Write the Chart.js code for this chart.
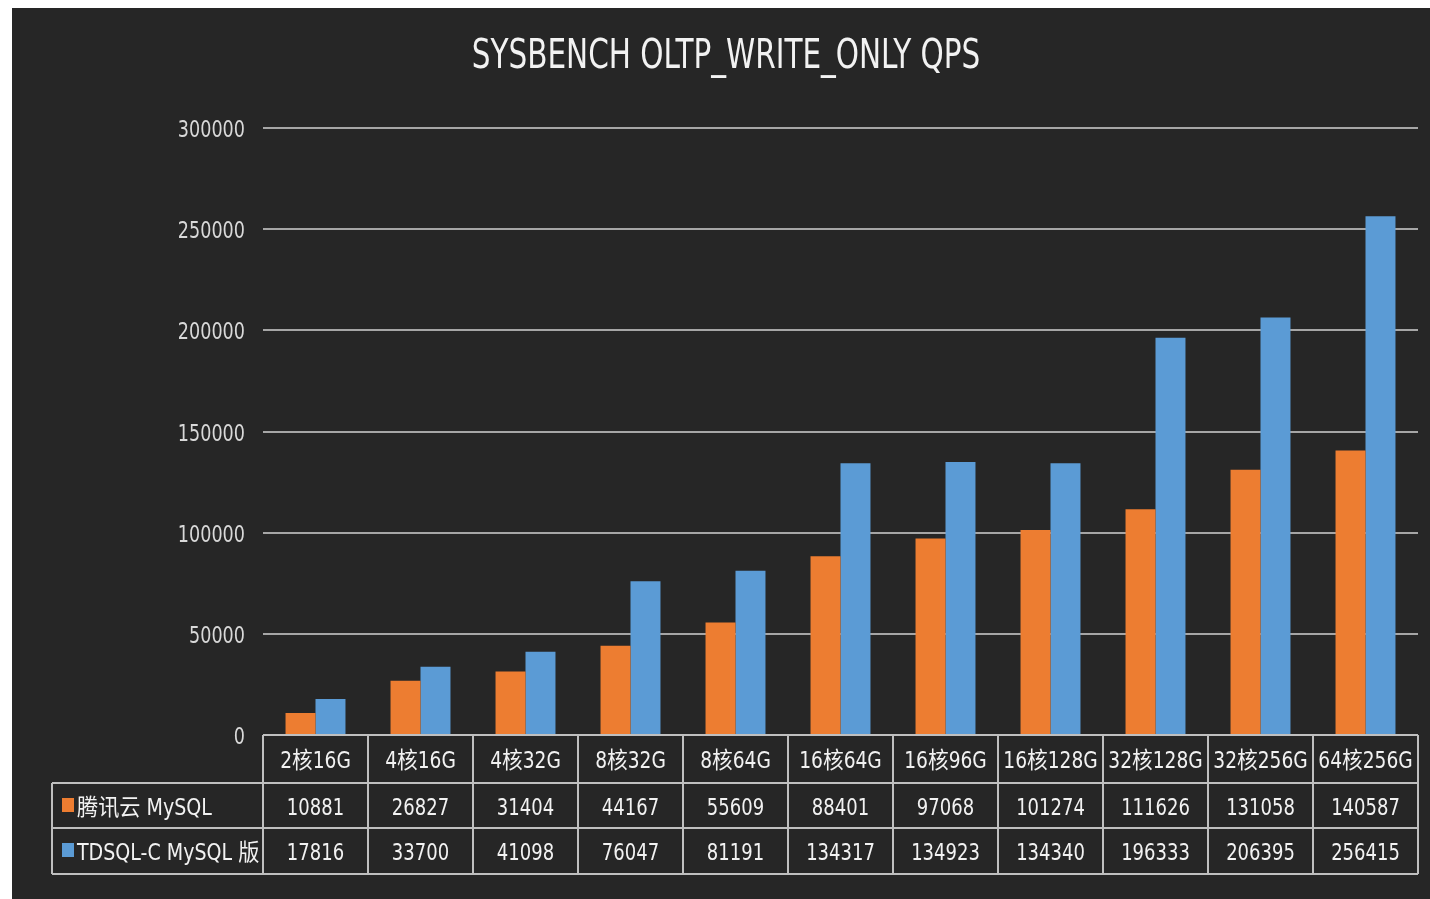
<!doctype html>
<html>
<head>
<meta charset="utf-8">
<title>SYSBENCH OLTP_WRITE_ONLY QPS</title>
<script src="https://cdn.jsdelivr.net/npm/chart.js"></script>
<style>
  body { margin: 0; background: #ffffff; }
  .box { position: absolute; left: 12px; top: 8px; width: 1418px; height: 891px; background: #262626; }
</style>
</head>
<body>
<div class="box"><canvas id="qpsChart"></canvas></div>
<script>
// chart data
const categories = ['2核16G', '4核16G', '4核32G', '8核32G', '8核64G', '16核64G', '16核96G', '16核128G', '32核128G', '32核256G', '64核256G'];
const seriesNames = ['腾讯云 MySQL', 'TDSQL-C MySQL 版'];
const tencentMysql = [10881, 26827, 31404, 44167, 55609, 88401, 97068, 101274, 111626, 131058, 140587];
const tdsqlC = [17816, 33700, 41098, 76047, 81191, 134317, 134923, 134340, 196333, 206395, 256415];
const yTicks = [0, 50000, 100000, 150000, 200000, 250000, 300000];
const chartTitle = 'SYSBENCH OLTP_WRITE_ONLY QPS';

const FONT = "'Liberation Sans Narrow', 'DejaVu Sans Condensed', 'Noto Sans CJK SC', sans-serif";
const TEXT = '#f2f2f2';
const LINE = '#bfbfbf';

// no narrow font installed, so squeeze text horizontally
function narrowText(ctx, text, x, y, align, size, sx) {
    ctx.save();
    ctx.translate(x, y);
    ctx.scale(sx, 1);
    ctx.font = size + 'px ' + FONT;
    ctx.textAlign = align;
    ctx.textBaseline = 'alphabetic';
    ctx.fillText(text, 0, 0);
    ctx.restore();
}

// title, y labels and the data table under the plot
const dataTable = {
    id: 'dataTable',
    afterDraw(chart) {
        const ctx = chart.ctx;
        const x = chart.scales.x;
        const y = chart.scales.y;
        const area = chart.chartArea;
        const colW = (area.right - area.left) / categories.length;
        const rows = [area.bottom, area.bottom + 48, area.bottom + 93, area.bottom + 139];
        const labelLeft = 40;

        ctx.save();
        ctx.fillStyle = TEXT;
        narrowText(ctx, chartTitle, chart.width / 2 + 5, 60, 'center', 41, 0.8);

        ctx.fillStyle = '#d9d9d9';
        y.ticks.forEach(t => {
            narrowText(ctx, String(t.value), area.left - 18, y.getPixelForValue(t.value) + 9, 'right', 23, 0.85);
        });

        ctx.strokeStyle = LINE;
        ctx.lineWidth = 2;
        ctx.beginPath();
        ctx.moveTo(area.left, rows[0]); ctx.lineTo(area.right, rows[0]);
        for (let r = 1; r < rows.length; r++) {
            ctx.moveTo(labelLeft, rows[r]); ctx.lineTo(area.right, rows[r]);
        }
        ctx.moveTo(labelLeft, rows[1]); ctx.lineTo(labelLeft, rows[3]);
        for (let i = 0; i <= categories.length; i++) {
            const px = area.left + i * colW;
            ctx.moveTo(px, rows[0]); ctx.lineTo(px, rows[3]);
        }
        ctx.stroke();

        ctx.fillStyle = TEXT;
        categories.forEach((c, i) => {
            narrowText(ctx, c, x.getPixelForValue(i), rows[0] + 33, 'center', 23, 0.9);
        });

        chart.data.datasets.forEach((ds, d) => {
            const top = rows[d + 1];
            ctx.fillStyle = TEXT;
            ds.data.forEach((v, i) => {
                narrowText(ctx, String(v), x.getPixelForValue(i), top + 32, 'center', 23, 0.87);
            });
            // legend key + series name
            ctx.fillStyle = ds.backgroundColor;
            ctx.fillRect(labelLeft + 10, top + 15, 12, 14);
            ctx.fillStyle = TEXT;
            narrowText(ctx, ds.label, labelLeft + 25, top + 32, 'left', 23, 0.92);
        });
        ctx.restore();
    }
};

new Chart(document.getElementById('qpsChart'), {
    type: 'bar',
    data: {
        labels: categories,
        datasets: [
            { label: seriesNames[0], data: tencentMysql, backgroundColor: '#ED7D31' },
            { label: seriesNames[1], data: tdsqlC, backgroundColor: '#5B9BD5' }
        ]
    },
    options: {
        responsive: true,
        maintainAspectRatio: false,
        animation: false,
        devicePixelRatio: 1,
        categoryPercentage: 0.571,
        barPercentage: 1.0,
        layout: { padding: { left: 0, right: 12, top: 120, bottom: 164 } },
        plugins: {
            legend: { display: false },
            tooltip: { enabled: false },
            title: { display: false }
        },
        scales: {
            x: {
                grid: { display: false },
                border: { display: false },
                ticks: { display: false },
                afterFit(scale) { scale.height = 0; }
            },
            y: {
                min: 0,
                max: 300000,
                afterBuildTicks(scale) { scale.ticks = yTicks.map(v => ({ value: v })); },
                afterFit(scale) { scale.width = 251; },
                grid: { color: '#a6a6a6', lineWidth: 2, drawTicks: false },
                border: { display: false },
                ticks: { display: false }
            }
        }
    },
    plugins: [dataTable]
});
</script>
</body>
</html>
